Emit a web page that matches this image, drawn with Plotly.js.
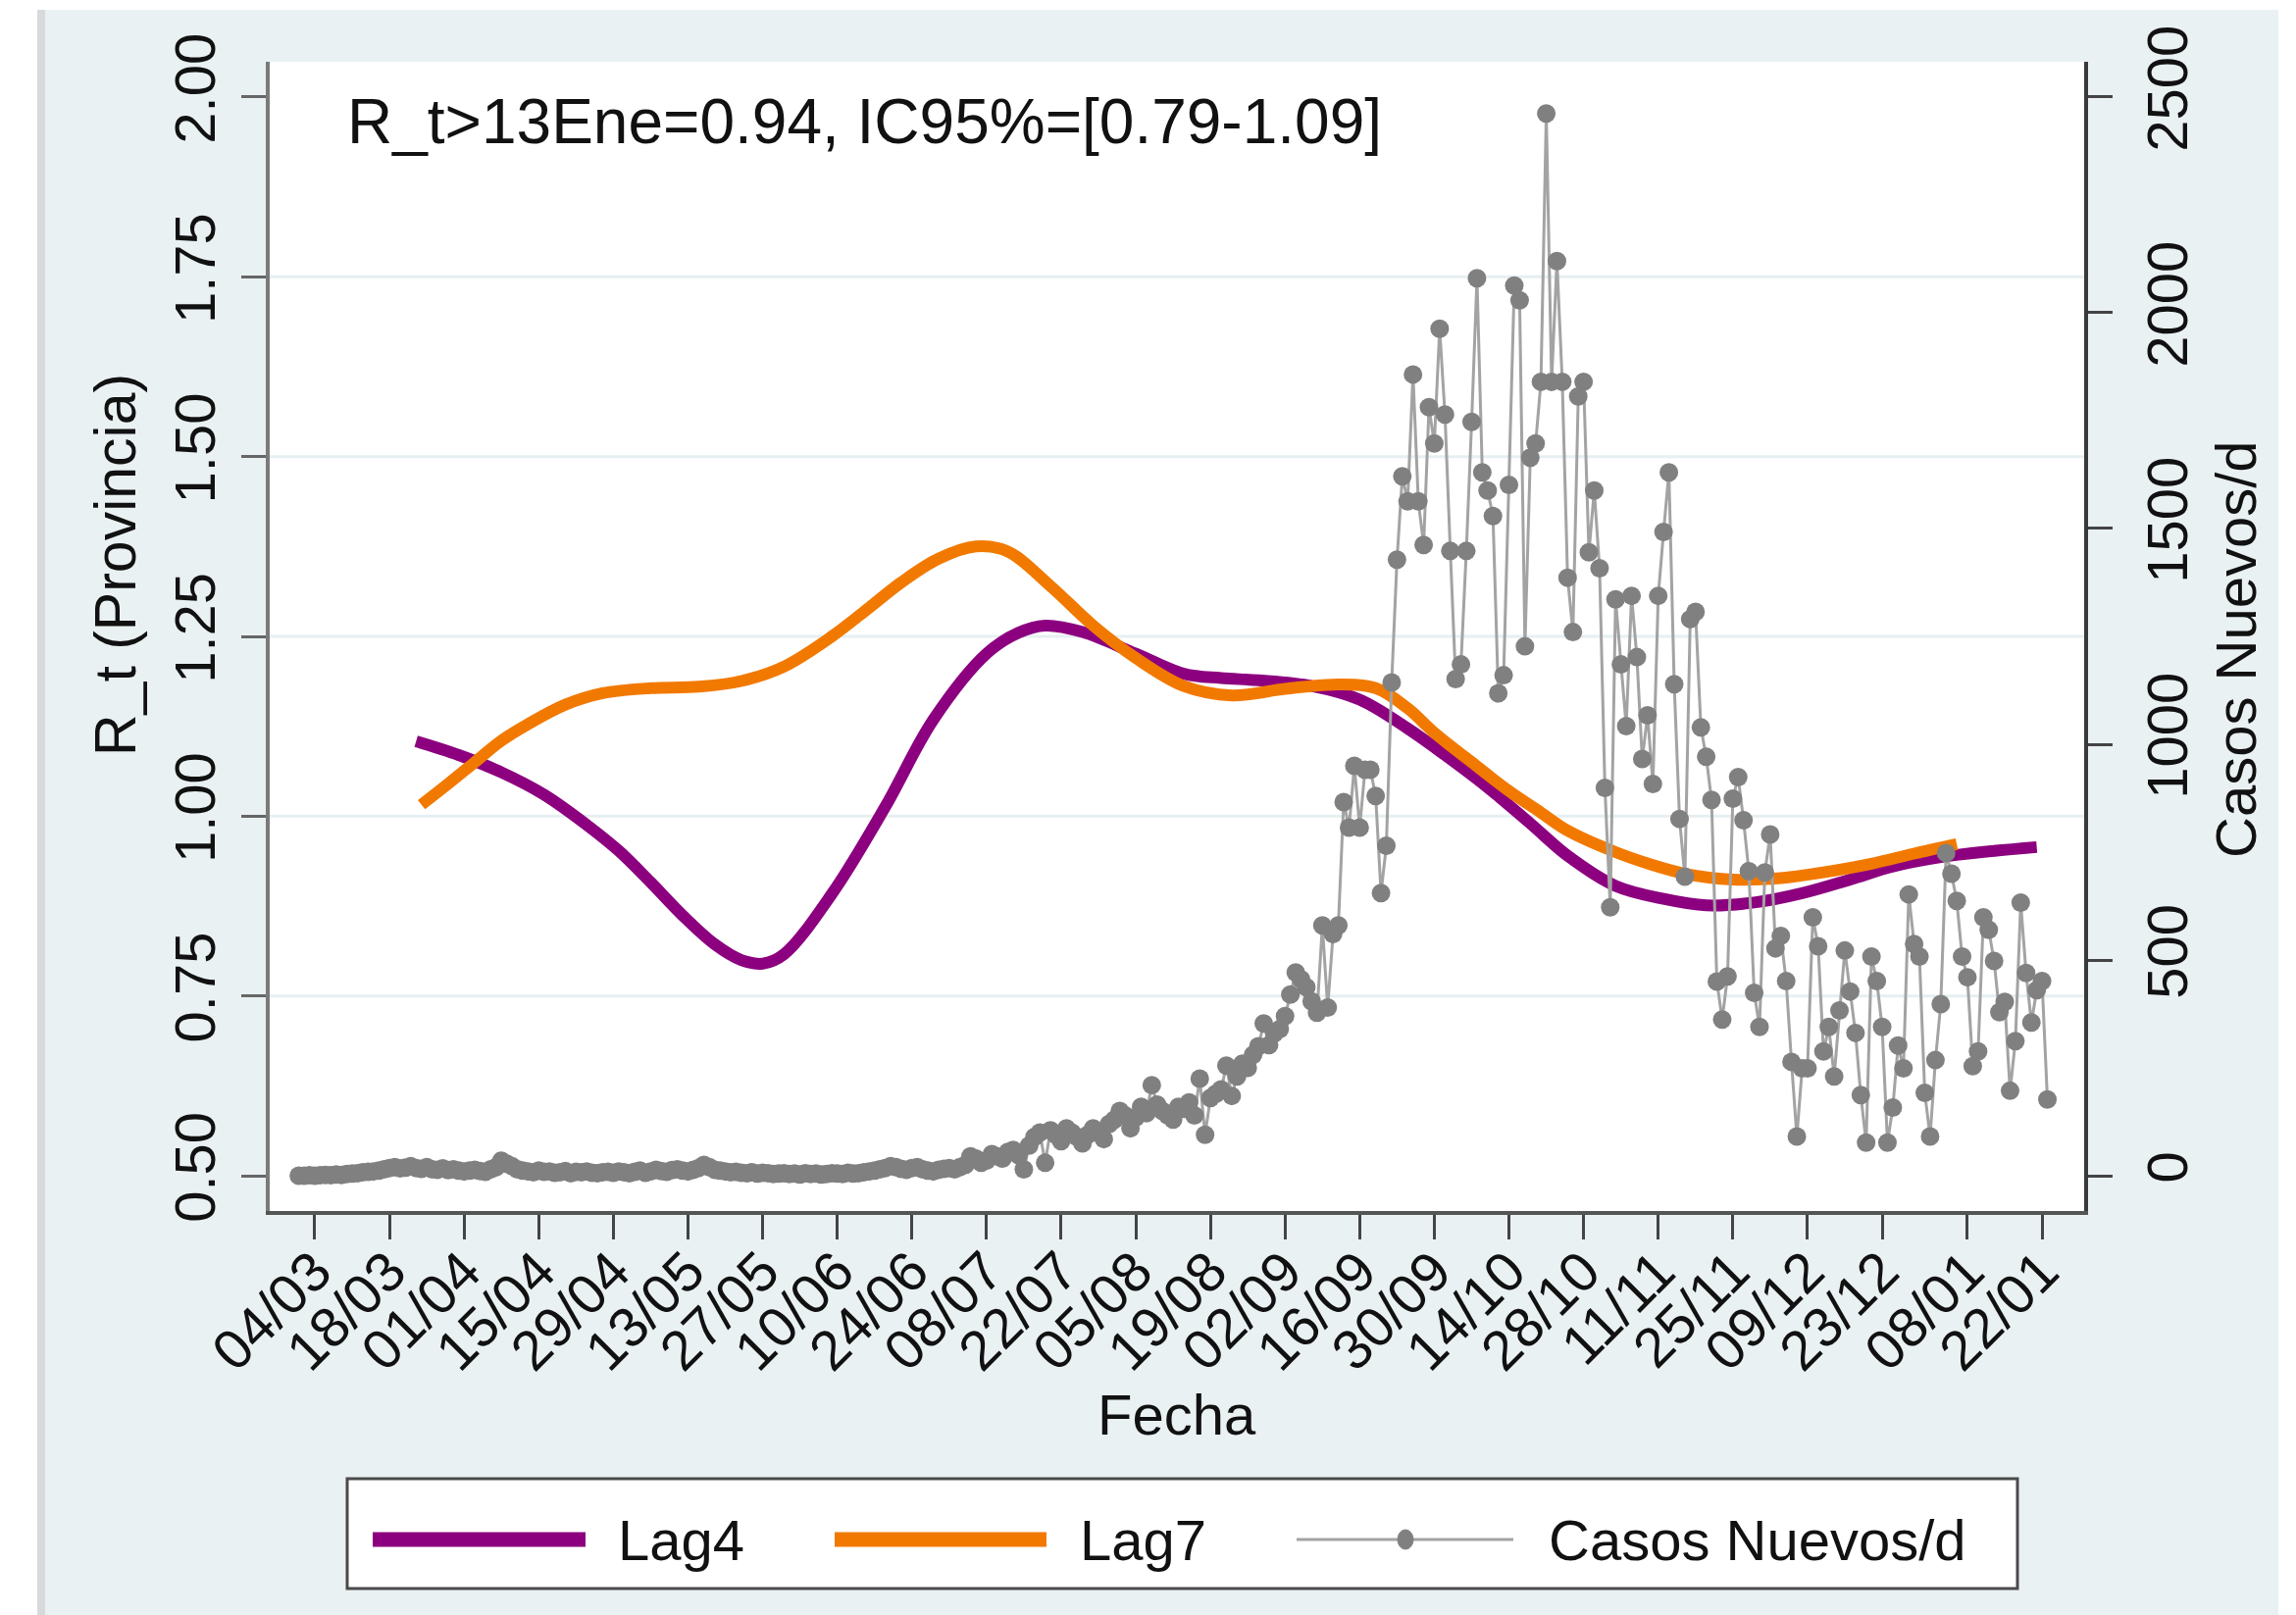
<!DOCTYPE html>
<html><head><meta charset="utf-8">
<script src="https://cdn.plot.ly/plotly-3.0.1.min.js"></script>
<style>
html,body{margin:0;padding:0;background:#fff;width:2341px;height:1647px;overflow:hidden;}
#edge{position:absolute;left:38px;top:10px;width:8px;height:1637px;background:#d7d9da;}
#chart{position:absolute;left:46px;top:10px;width:2277px;height:1637px;}
</style></head><body>
<div id="edge"></div><div id="chart"></div>
<script>
// ---- Daily new cases (Casos Nuevos/d), starting 2020-03-01 ----
const casesStart = [2020, 2, 1]; // year, month index, day
const casesMar = [0,0,1,0,1,2,1,3,2,4,5,6,8,9,10,12,15,18,20,17,19,22,18,16,20,15,14,17,13,15,12];
const casesApr = [10,12,14,11,9,15,20,35,28,22,15,12,10,8,12,9,10,7,8,11,6,9,8,10,7,6,8,9,7,10];
const casesMay = [8,6,9,12,7,10,14,11,9,13,15,12,10,14,18,25,20,14,12,10,8,9,7,6,8,5,7,6,4,5,6];
const casesJun = [4,5,3,6,4,5,3,4,6,5,4,7,5,6,8,10,12,15,18,22,20,16,14,18,20,15,12,10,14,16];
const casesJul = [18,15,20,25,45,40,30,35,50,45,40,55,60,48,15,70,90,100,30,105,95,80,110,100,90,75,95,110,100,85,120];
const casesAug = [130,150,140,110,135,160,145,210,165,150,140,130,160,155,170,140,225,95,180,190,200,255,185,230,260,250,280,300,353,303,330];
const casesSep = [340,370,420,471,455,437,404,378,580,390,560,580,866,807,950,807,941,941,880,655,765,1143,1428,1621,1563,1857,1563,1462,1781,1697];
const casesOct = [1963,1764,1448,1151,1185,1448,1747,2080,1630,1588,1529,1118,1160,1601,2063,2029,1227,1664,1697,1840,2462,1840,2120,1840,1386,1260,1806,1840,1445,1588,1408];
const casesNov = [899,622,1336,1185,1042,1344,1202,966,1067,908,1344,1492,1630,1139,827,693,1290,1307,1039,971,871,450,362,462,874,924,824,706,424,345];
const casesDec = [703,791,527,556,451,264,91,249,249,599,532,288,345,230,383,522,427,331,187,77,508,451,345,77,158,302,249,652,537,508,192];
const casesJan = [91,268,398,748,700,637,508,460,254,288,599,570,498,379,403,197,312,633,470,355,430,451,177];

// ---- R_t curves ----
const lag4Dates = ['2020-03-23','2020-03-31','2020-04-08','2020-04-16','2020-04-24','2020-04-30','2020-05-06','2020-05-12','2020-05-18','2020-05-23','2020-05-27','2020-05-31','2020-06-09','2020-06-19','2020-06-28','2020-07-08','2020-07-14','2020-07-19','2020-07-26','2020-08-05','2020-08-14','2020-08-21','2020-08-28','2020-09-07','2020-09-16','2020-09-25','2020-10-02','2020-10-10','2020-10-18','2020-10-25','2020-11-03','2020-11-12','2020-11-20','2020-11-29','2020-12-08','2020-12-17','2020-12-25','2021-01-03','2021-01-12','2021-01-21'];
const lag4Values = [1.104,1.085,1.061,1.030,0.988,0.952,0.908,0.862,0.822,0.800,0.795,0.808,0.892,1.013,1.134,1.226,1.255,1.265,1.256,1.226,1.198,1.192,1.189,1.181,1.162,1.122,1.085,1.040,0.990,0.945,0.903,0.885,0.876,0.880,0.893,0.912,0.930,0.943,0.951,0.957];
const lag7Dates = ['2020-03-24','2020-03-29','2020-04-03','2020-04-08','2020-04-13','2020-04-20','2020-04-27','2020-05-06','2020-05-15','2020-05-23','2020-05-31','2020-06-09','2020-06-16','2020-06-22','2020-06-29','2020-07-06','2020-07-12','2020-07-20','2020-07-28','2020-08-05','2020-08-14','2020-08-23','2020-09-02','2020-09-11','2020-09-19','2020-09-25','2020-09-30','2020-10-07','2020-10-14','2020-10-20','2020-10-25','2020-11-03','2020-11-10','2020-11-16','2020-11-25','2020-12-04','2020-12-12','2020-12-21','2020-12-29','2021-01-06'];
const lag7Values = [1.016,1.045,1.075,1.105,1.128,1.155,1.171,1.178,1.180,1.188,1.208,1.250,1.290,1.325,1.358,1.375,1.368,1.320,1.265,1.220,1.181,1.168,1.177,1.183,1.178,1.150,1.116,1.075,1.035,1.005,0.980,0.950,0.932,0.920,0.912,0.914,0.922,0.934,0.948,0.961];

// ---- Axis ticks ----
const xTickDates = ['2020-03-04','2020-03-18','2020-04-01','2020-04-15','2020-04-29','2020-05-13','2020-05-27','2020-06-10','2020-06-24','2020-07-08','2020-07-22','2020-08-05','2020-08-19','2020-09-02','2020-09-16','2020-09-30','2020-10-14','2020-10-28','2020-11-11','2020-11-25','2020-12-09','2020-12-23','2021-01-08','2021-01-22'];
const xTickLabels = ['04/03','18/03','01/04','15/04','29/04','13/05','27/05','10/06','24/06','08/07','22/07','05/08','19/08','02/09','16/09','30/09','14/10','28/10','11/11','25/11','09/12','23/12','08/01','22/01'];
const yLeftTicks = [0.5,0.75,1.0,1.25,1.5,1.75,2.0];
const yLeftLabels = ['0.50','0.75','1.00','1.25','1.50','1.75','2.00'];
const yRightTicks = [0,500,1000,1500,2000,2500];
const gridVals = [0.75,1.0,1.25,1.5,1.75];

const annotText = 'R_t>13Ene=0.94, IC95%=[0.79-1.09]';
const legendNames = ['Lag4','Lag7','Casos Nuevos/d'];

const casesValues = [].concat(casesMar,casesApr,casesMay,casesJun,casesJul,casesAug,casesSep,casesOct,casesNov,casesDec,casesJan);
const casesDates = casesValues.map((v,i)=> new Date(Date.UTC(casesStart[0],casesStart[1],casesStart[2]+i)).toISOString().slice(0,10));

const PURPLE = '#8c007f', ORANGE = '#f27900', GREY = '#808080', GREYLINE = '#a3a3a3';
const FONT = 'Liberation Sans, Arial, Helvetica, sans-serif';

const traces = [
  {x: lag4Dates, y: lag4Values, type:'scatter', mode:'lines', name: legendNames[0],
   line:{color:PURPLE, width:12, shape:'spline', smoothing:1}, yaxis:'y'},
  {x: lag7Dates, y: lag7Values, type:'scatter', mode:'lines', name: legendNames[1],
   line:{color:ORANGE, width:12, shape:'spline', smoothing:1}, yaxis:'y'},
  {x: casesDates, y: casesValues, type:'scatter', mode:'lines+markers', name: legendNames[2],
   line:{color:GREYLINE, width:3}, marker:{color:GREY, size:19}, yaxis:'y2'}
];

// page px -> paper coords helpers (plot area: x 275..2125, y 63..1235 on the page)
const PX = X => (X-275)/1850;
const PY = Y => (1235-Y)/1172;

const shapes = gridVals.map(v => ({type:'line', xref:'paper', yref:'y', x0:0, x1:1, y0:v, y1:v,
  line:{color:'#e6eff1', width:3}, layer:'below'}));

// legend box
const legY = PY(1570);
shapes.push({type:'rect', xref:'paper', yref:'paper', x0:PX(354), x1:PX(2057), y0:PY(1620), y1:PY(1508),
  fillcolor:'#ffffff', line:{color:'#4a4a4a', width:3}});
shapes.push({type:'line', xref:'paper', yref:'paper', x0:PX(380), x1:PX(597), y0:legY, y1:legY, line:{color:PURPLE, width:15}});
shapes.push({type:'line', xref:'paper', yref:'paper', x0:PX(851), x1:PX(1067), y0:legY, y1:legY, line:{color:ORANGE, width:15}});
shapes.push({type:'line', xref:'paper', yref:'paper', x0:PX(1322), x1:PX(1543), y0:legY, y1:legY, line:{color:GREYLINE, width:3}});
shapes.push({type:'circle', xref:'paper', yref:'paper', x0:PX(1433-8), x1:PX(1433+8), y0:PY(1570+10), y1:PY(1570-10),
  fillcolor:GREY, line:{color:GREY, width:1}});

const annotations = [
  {text: annotText, xref:'paper', yref:'paper', x:PX(352), y:PY(124), xanchor:'left', yanchor:'middle',
   showarrow:false, font:{size:64, color:'#111', family:FONT}},
  {text:'R_t (Provincia)', xref:'paper', yref:'paper', x:PX(118), y:PY(576), textangle:-90,
   xanchor:'center', yanchor:'middle', showarrow:false, font:{size:59, color:'#111', family:FONT}},
  {text:'Casos Nuevos/d', xref:'paper', yref:'paper', x:PX(2279), y:PY(662), textangle:-90,
   xanchor:'center', yanchor:'middle', showarrow:false, font:{size:58, color:'#111', family:FONT}},
  {text:'Fecha', xref:'paper', yref:'paper', x:0.5, y:PY(1442), xanchor:'center', yanchor:'middle',
   showarrow:false, font:{size:58, color:'#111', family:FONT}},
  {text: legendNames[0], xref:'paper', yref:'paper', x:PX(628), y:legY, xanchor:'left', yanchor:'middle',
   showarrow:false, font:{size:58, color:'#111', family:FONT}},
  {text: legendNames[1], xref:'paper', yref:'paper', x:PX(1099), y:legY, xanchor:'left', yanchor:'middle',
   showarrow:false, font:{size:58, color:'#111', family:FONT}},
  {text: legendNames[2], xref:'paper', yref:'paper', x:PX(1577), y:legY, xanchor:'left', yanchor:'middle',
   showarrow:false, font:{size:58, color:'#111', family:FONT}}
];

const layout = {
  width:2277, height:1637,
  margin:{l:229, r:198, t:53, b:412, pad:0},
  paper_bgcolor:'#eaf1f3', plot_bgcolor:'#ffffff',
  font:{family:FONT, color:'#111', size:58},
  showlegend:false,
  xaxis:{type:'date', range:['2020-02-24 13:00','2021-01-29 21:30'],
    tickmode:'array', tickvals:xTickDates, ticktext:xTickLabels, tickangle:-45,
    ticks:'outside', ticklen:25, tickwidth:3, tickcolor:'#444',
    showline:true, linecolor:'#555', linewidth:4, showgrid:false, zeroline:false,
    ticklabelstandoff:-24,
    tickfont:{size:57, color:'#111', family:FONT}},
  yaxis:{range:[0.451,2.049], tickmode:'array', tickvals:yLeftTicks, ticktext:yLeftLabels, tickangle:-90,
    ticks:'outside', ticklen:25, tickwidth:3, tickcolor:'#666',
    showline:true, linecolor:'#7a7a7a', linewidth:4, showgrid:false, zeroline:false,
    ticklabelstandoff:4,
    tickfont:{size:58, color:'#111', family:FONT}},
  yaxis2:{overlaying:'y', side:'right', range:[-81.7,2581.7], tickmode:'array', tickvals:yRightTicks,
    ticktext:yRightTicks.map(String), tickangle:-90,
    ticks:'outside', ticklen:25, tickwidth:3, tickcolor:'#444',
    showline:true, linecolor:'#3a3a3a', linewidth:4, showgrid:false, zeroline:false,
    ticklabelstandoff:6,
    tickfont:{size:58, color:'#111', family:FONT}},
  shapes: shapes,
  annotations: annotations
};

Plotly.newPlot('chart', traces, layout, {displayModeBar:false, staticPlot:true});
</script>
</body></html>
